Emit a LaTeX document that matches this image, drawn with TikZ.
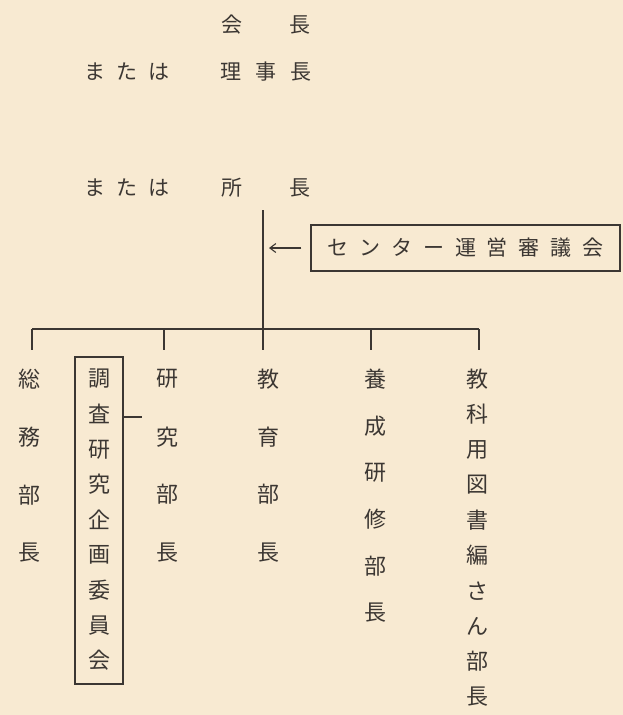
\documentclass[tikz,border=0pt]{standalone}
\usepackage{fontspec}
\setmainfont{Noto Sans CJK JP}
\usetikzlibrary{arrows.meta}
\definecolor{paper}{HTML}{F8EAD2}
\definecolor{ink}{HTML}{3C3733}
\newcommand{\vcol}[5]{%
  \foreach \ch [count=\i] in {#5}{%
    \node[coltxt] (#1-\i) at (#2,{#3+(\i-1)*#4}) {\ch};}}
\newcommand{\gp}[1]{\hspace{#1}}
\begin{document}
\begin{tikzpicture}[x=1pt,y=-1pt,
  toptxt/.style={text=ink,inner sep=0pt,font=\fontsize{21}{21}\selectfont},
  coltxt/.style={text=ink,inner sep=0pt,font=\fontsize{22}{22}\selectfont},
  ln/.style={draw=ink,line width=1.1pt},
  boxed/.style={draw=ink,line width=1.1pt,inner sep=0pt}]
\fill[paper] (0,0) rectangle (623,715);
\useasboundingbox (0,0) rectangle (623,715);

% top titles
\node[toptxt] (kai) at (232,25) {会};
\node[toptxt] (kaicho) at (300,25) {長};
\node[toptxt] (mata1) at (127,72) {ま\gp{11pt}た\gp{11pt}は};
\node[toptxt] (riji) at (266,72) {理\gp{14pt}事\gp{14pt}長};
\node[toptxt] (mata2) at (127,188) {ま\gp{11pt}た\gp{11pt}は};
\node[toptxt] (sho) at (232,188) {所};
\node[toptxt] (shocho) at (300,188) {長};

% trunk and bar
\coordinate (t0) at (263,210);
\coordinate (tj) at (263,329);
\coordinate (t1) at (263,350);
\draw[ln] (t0) -- (t1);
\coordinate (hl) at (32,329);
\coordinate (hr) at (479,329);
\draw[ln] (hl) -- (hr);
\coordinate (b2) at (164,329);
\coordinate (b4) at (371,329);
\draw[ln] (hl) -- ++(0,21);
\draw[ln] (b2) -- ++(0,21);
\draw[ln] (b4) -- ++(0,21);
\draw[ln] (hr) -- ++(0,21);

% council box
\node[boxed,minimum width=309pt,minimum height=46pt,text=ink,
      font=\fontsize{21}{21}\selectfont] (council) at (465.5,248)
  {セ\gp{10.8pt}ン\gp{10.8pt}タ\gp{10.8pt}ー\gp{10.8pt}運\gp{10.8pt}営\gp{10.8pt}審\gp{10.8pt}議\gp{10.8pt}会};
\draw[ln,-{Straight Barb[length=6pt,width=9pt]},shorten <=9pt,shorten >=6pt]
  (council.west) -- (council.west -| t0);

% committee box
\node[boxed,minimum width=48pt,minimum height=327pt] (cbox) at (99,520.5) {};
\coordinate (tick) at (142,417);
\draw[ln] (cbox.east |- tick) -- (tick);

% columns
\vcol{soumu}{30}{379}{58}{総,務,部,長}
\vcol{chousa}{99}{379}{35.2}{調,査,研,究,企,画,委,員,会}
\vcol{kenkyu}{167}{379}{57.8}{研,究,部,長}
\vcol{kyoiku}{268}{379}{57.8}{教,育,部,長}
\vcol{yousei}{375}{379}{46.8}{養,成,研,修,部,長}
\vcol{kyoka}{477}{379}{35.3}{教,科,用,図,書,編,さ,ん,部,長}
\end{tikzpicture}
\end{document}
